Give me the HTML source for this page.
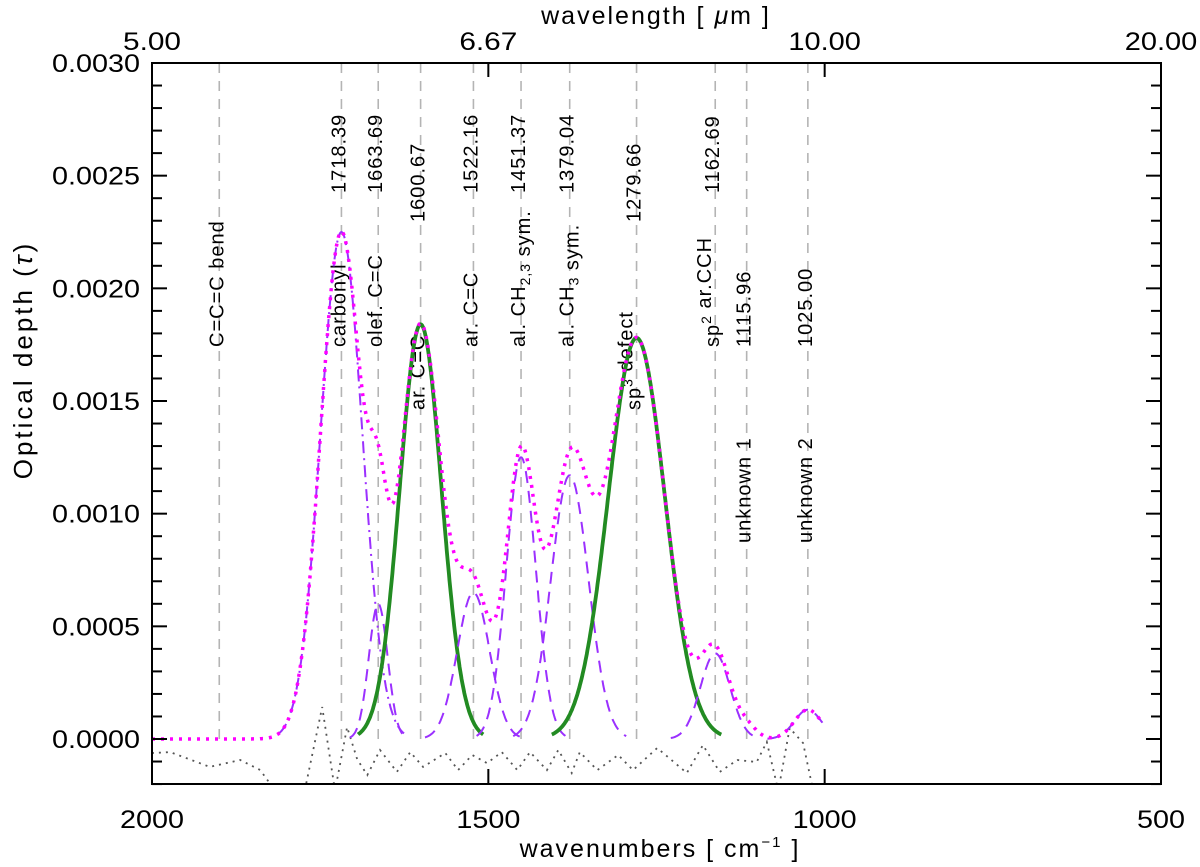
<!DOCTYPE html>
<html><head><meta charset="utf-8"><style>
html,body{margin:0;padding:0;background:#fff;}
svg{display:block;font-family:"Liberation Sans",sans-serif;}
</style></head><body>
<svg id="chart" width="1200" height="867" viewBox="0 0 1200 867" xmlns="http://www.w3.org/2000/svg">
<defs><clipPath id="plotclip"><rect x="152" y="63" width="1009" height="721"/></clipPath></defs>
<g id="guides"></g>
<g id="labels"></g>
<g id="series" clip-path="url(#plotclip)"></g>
<g id="axes"></g>
<text x="660" y="857" font-size="25" text-anchor="middle" style="letter-spacing:2px">wavenumbers [ cm<tspan font-size="15" dy="-10">−1</tspan><tspan dy="10"> ]</tspan></text>
<text x="656" y="24" font-size="25" text-anchor="middle" style="letter-spacing:2px">wavelength [ <tspan font-style="italic">μ</tspan>m ]</text>
<text x="32" y="360" font-size="26" text-anchor="middle" transform="rotate(-90 32 360)" style="letter-spacing:3px">Optical depth (<tspan font-style="italic">τ</tspan>)</text>
</svg>
<script>
// ---- data ----
const bandCenters = [1718.39, 1663.69, 1600.67, 1522.16, 1451.37, 1379.04, 1279.66, 1162.69, 1115.96, 1025.00];
const bandAmps    = [0.00225, 0.00060, 0.00184, 0.00065, 0.00125, 0.00117, 0.00178, 0.00038, 0.00005, 0.00013];
const bandSigmas  = [31, 14, 31, 24, 22, 28, 42, 22, 15, 20];
const bandIsGreen = [false, false, true, false, false, false, true, false, false, false];
const guideLines  = [1900, 1718.39, 1663.69, 1600.67, 1522.16, 1451.37, 1379.04, 1279.66, 1162.69, 1115.96, 1025.00];
const guideNames  = ["C=C=C bend", "carbonyl", "olef. C=C", "ar. C=C", "ar. C=C", "al. CH|2,3| sym.", "al. CH|3| sym.", "sp^3^ defect", "sp^2^ ar.CCH", "unknown 1", "unknown 2"];
const nameBottoms = [347, 347, 347, 410, 347, 347, 347, 410, 347, 543, 543];
const numBottoms  = [null, 193, 193, 222, 193, 193, 193, 222, 193, 347, 347];
const residWn  = [2000,1998,1973,1914,1869,1839,1817,1795,1773,1747,1728,1710,1695,1680,1661,1636,1616,1597,1564,1545,1524,1502,1480,1457,1438,1413,1396,1376,1364,1338,1307,1285,1249,1205,1181,1156,1130,1101,1086,1069,1052,1032,1017,1005];
const residVal = [-0.6,-0.62,-0.58,-1.24,-0.93,-1.38,-2.3,-2.7,-2.3,1.42,-2.3,0.53,-0.9,-1.6,-0.49,-1.46,-0.58,-1.24,-0.62,-1.38,-0.71,-1.07,-0.58,-1.38,-0.58,-1.38,-0.49,-1.51,-0.58,-1.38,-0.71,-1.38,-0.40,-1.51,-0.27,-1.46,-0.93,-1.02,-0.13,-2.3,0.49,-0.18,-2.3,-3.0].map(v=>v*1e-4);
const yTicks = [0, 0.0005, 0.0010, 0.0015, 0.0020, 0.0025, 0.0030];
const yTickLabels = ["0.0000","0.0005","0.0010","0.0015","0.0020","0.0025","0.0030"];
const xTicks = [2000, 1500, 1000, 500];
const xTickLabels = ["2000","1500","1000","500"];
const topTickLabels = ["5.00","6.67","10.00","20.00"];

// ---- scales ----
const X0=152, X1=1161, Y0=739, YT=63, WMIN=1003;
const xs = w => X0 + (2000 - w) * (X1 - X0) / 1500;
const ys = v => Y0 - v * (Y0 - YT) / 0.003;
const NS='http://www.w3.org/2000/svg';
function mk(tag, attrs, parent){const e=document.createElementNS(NS,tag);for(const k in attrs)e.setAttribute(k,attrs[k]);parent.appendChild(e);return e;}
const gauss=(w,i)=>bandAmps[i]*Math.exp(-Math.pow(w-bandCenters[i],2)/(2*bandSigmas[i]*bandSigmas[i]));

const guides=document.getElementById('guides');
guideLines.forEach((w,i)=>{
  const l=mk('line',{x1:xs(w),x2:xs(w),y1:YT,y2:Y0,stroke:'#b4b4b4','stroke-width':1.6,'stroke-dasharray':'10 8'},guides);
  
  
});

const labels=document.getElementById('labels');
function richText(t, str){
  const parts=str.split(/(\|[^|]*\||\^[^^]*\^)/);
  parts.forEach(p=>{
    if(!p)return;
    if(p[0]==='|'){const s=mk('tspan',{'font-size':14,dy:5},t);s.textContent=p.slice(1,-1);const r=mk('tspan',{dy:-5},t);r.textContent='';}
    else if(p[0]==='^'){const s=mk('tspan',{'font-size':14,dy:-8},t);s.textContent=p.slice(1,-1);const r=mk('tspan',{dy:8},t);r.textContent='';}
    else{const s=mk('tspan',{},t);s.textContent=p;}
  });
}
guideLines.forEach((w,i)=>{
  const x=xs(w)+4;
  const t=mk('text',{x:x,y:nameBottoms[i],'font-size':20,'text-anchor':'start',transform:`rotate(-90 ${x} ${nameBottoms[i]})`,fill:'#000',style:'letter-spacing:1px'},labels);
  
  
  richText(t, guideNames[i]);
  if(numBottoms[i]!==null){
    const n=mk('text',{x:x,y:numBottoms[i],'font-size':20,'text-anchor':'start',transform:`rotate(-90 ${x} ${numBottoms[i]})`,fill:'#000',style:'letter-spacing:1px'},labels);
    
    
    n.textContent=w.toFixed(2);
  }
});

const series=document.getElementById('series');
// residual
let rd=residWn.map((w,i)=>(i?'L':'M')+xs(w).toFixed(1)+' '+ys(residVal[i]).toFixed(1)).join(' ');
const res=mk('path',{d:rd,fill:'none',stroke:'#555','stroke-width':1.8,'stroke-dasharray':'2 5'},series);


// components
bandCenters.forEach((c,i)=>{
  if(i===8)return;
  const s=bandSigmas[i];let d='';
  for(let w=c+3*s,k=0;w>=Math.max(c-3*s,WMIN);w-=1,k++) d+=(k?'L':'M')+xs(w).toFixed(1)+' '+ys(gauss(w,i)).toFixed(1)+' ';
  let attrs;
  if(bandIsGreen[i]) attrs={stroke:'#228b22','stroke-width':3.8};
  else if(i===0) attrs={stroke:'#9b30ff','stroke-width':2,'stroke-dasharray':'12 5 2 5'};
  else attrs={stroke:'#9b30ff','stroke-width':2,'stroke-dasharray':'12 8'};
  attrs.d=d;attrs.fill='none';
  const p=mk('path',attrs,series);
  
  
});
// total
let td='';
for(let w=2000,k=0;w>=WMIN;w-=1,k++){let v=0;for(let i=0;i<bandCenters.length;i++)v+=gauss(w,i);td+=(k?'L':'M')+xs(w).toFixed(1)+' '+ys(v).toFixed(1)+' ';}
const tot=mk('path',{d:td,fill:'none',stroke:'#ff00ff','stroke-width':3.5,'stroke-dasharray':'3 6'},series);



// axes
const axes=document.getElementById('axes');
const box=mk('rect',{x:X0,y:YT,width:X1-X0,height:784-YT,fill:'none',stroke:'#000','stroke-width':2},axes);


for(let k=-2;k<=30;k++){
  const v=k*0.0001,y=ys(v),len=(k%5===0)?15:10;
  mk('line',{x1:X0,x2:X0+len,y1:y,y2:y,stroke:'#000','stroke-width':2},axes);
  mk('line',{x1:X1,x2:X1-len,y1:y,y2:y,stroke:'#000','stroke-width':2},axes);
}
yTicks.forEach((v,i)=>{
  const t=mk('text',{x:140,y:ys(v)+9,'font-size':25,'text-anchor':'end',textLength:88,lengthAdjust:'spacingAndGlyphs',fill:'#000'},axes);
  
  
  t.textContent=yTickLabels[i];
});
xTicks.forEach((w,i)=>{
  const x=xs(w);
  mk('line',{x1:x,x2:x,y1:784,y2:769,stroke:'#000','stroke-width':2},axes);
  mk('line',{x1:x,x2:x,y1:YT,y2:YT+14,stroke:'#000','stroke-width':2},axes);
  const t=mk('text',{x:x,y:828,'font-size':25,'text-anchor':'middle',textLength:xTickLabels[i].length*16,lengthAdjust:'spacingAndGlyphs',fill:'#000'},axes);
  
  
  t.textContent=xTickLabels[i];
  const u=mk('text',{x:x,y:50,'font-size':25,'text-anchor':'middle',textLength:topTickLabels[i].length*14.5,lengthAdjust:'spacingAndGlyphs',fill:'#000'},axes);
  
  
  u.textContent=topTickLabels[i];
});
</script>
</body></html>
